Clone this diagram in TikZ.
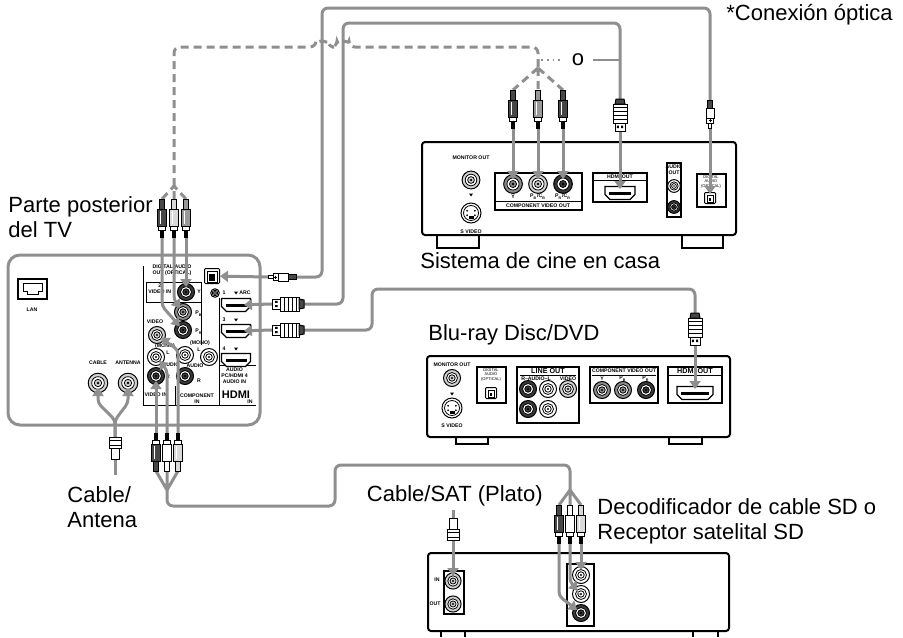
\documentclass[tikz,border=0pt]{standalone}
\usepackage{fontspec}
\setmainfont{Liberation Sans}
\usetikzlibrary{arrows.meta}

\definecolor{cablegray}{gray}{0.56}
\definecolor{plugdark}{gray}{0.28}
\definecolor{plugmid}{gray}{0.6}
\definecolor{pluglight}{gray}{0.85}
\definecolor{jackdark}{gray}{0.22}
\definecolor{jackmid}{gray}{0.55}
\definecolor{jacklight}{gray}{0.82}

\tikzset{
  cable/.style={cablegray, line width=1.5pt, rounded corners=3pt},
  dashcable/.style={cablegray, line width=1.5pt, dash pattern=on 4pt off 2.5pt, rounded corners=3pt},
  plugin/.style={cablegray, line width=1.5pt, rounded corners=2pt, -{Triangle[length=4pt,width=5.5pt]}},
  unitbox/.style={draw=black, line width=1pt, rounded corners=1.5pt},
  foot/.style={draw=black, line width=1pt},
  panel/.style={draw=black, line width=0.4pt},
  paneltext/.style={font=\fontsize{2.6}{3}\selectfont\bfseries, inner sep=0pt, align=center},
  biglabel/.style={font=\fontsize{11}{12.5}\selectfont, inner sep=0pt, align=left}
}

% round jack: name, centre, ring colour, size
\newcommand{\jack}[4]{%
  \coordinate (#1) at (#2);
  \begin{scope}[shift={(#2)},scale=#4]
    \draw[line width=0.5pt, fill=#3] (0,0) circle (8.5);
    \draw[line width=0.4pt, fill=white] (0,0) circle (5.5);
    \draw[line width=0.4pt, fill=#3] (0,0) circle (3.2);
    \fill (0,0) circle (1.2);
  \end{scope}}

% hdmi socket: name, centre, width
\newcommand{\hdmiport}[3]{%
  \coordinate (#1) at (#2);
  \begin{scope}[shift={(#2)}]
    \draw[line width=0.6pt, fill=white] (-#3/2,-6.5) -- (#3/2,-6.5) -- (#3/2,1.5) -- (#3/2-5,6.5) -- (-#3/2+5,6.5) -- (-#3/2,1.5) -- cycle;
    \fill (-#3/2+4,-1) rectangle (#3/2-4,1.5);
  \end{scope}}

% s-video socket: name, centre
\newcommand{\svideo}[2]{%
  \coordinate (#1) at (#2);
  \begin{scope}[shift={(#2)}]
    \draw[line width=0.5pt, fill=white] (0,0) circle (10);
    \draw[line width=0.4pt] (0,0) circle (7.5);
    \foreach \a in {30,150,210,330} \fill (\a:4.5) circle (1);
    \fill (-2.5,3) rectangle (2.5,6);
  \end{scope}}

% optical socket: name, centre, half size
\newcommand{\optport}[3]{%
  \coordinate (#1) at (#2);
  \begin{scope}[shift={(#2)}]
    \draw[line width=0.5pt, fill=white, rounded corners=0.5pt] (-#3,-#3) rectangle (#3,#3);
    \draw[line width=0.4pt, fill=white] (-#3+2.5,-#3+3) rectangle (#3-2.5,#3-1.5);
    \fill (-#3+4.5,-#3+5) rectangle (#3-4.5,#3-2.5);
  \end{scope}}

% small down triangle
\newcommand{\downtri}[1]{\fill[shift={(#1)}] (-2,-1.5) -- (2,-1.5) -- (0,1.5) -- cycle;}

% plugs: tip, transform (drawn pointing down)
\newcommand{\rcaplug}[3]{%
  \begin{scope}[shift={(#1)},#2]
    \draw[line width=0.4pt, fill=black] (-1.3,0) rectangle (1.3,-7);
    \draw[line width=0.4pt, fill=white] (-3.5,-7) rectangle (3.5,-11);
    \draw[line width=0.4pt, fill=#3] (-4.5,-11) rectangle (4.5,-28);
    \draw[line width=0.4pt, white] (-1.5,-13) -- (-1.5,-26);
    \draw[line width=0.4pt, fill=#3] (-2.5,-28) rectangle (2.5,-38);
  \end{scope}}
\newcommand{\hdmiplug}[2]{%
  \begin{scope}[shift={(#1)},#2]
    \draw[line width=0.5pt, fill=white] (-5,0) rectangle (5,-8);
    \fill (-3.2,-3) rectangle (-1.2,-5.5) (1.2,-3) rectangle (3.2,-5.5);
    \draw[line width=0.5pt, fill=white] (-7,-8) rectangle (7,-27);
    \foreach \r in {-12,-16,-20,-24} \draw[line width=0.4pt] (-7,\r) -- (7,\r);
    \draw[line width=0.5pt, fill=plugdark] (-5,-27) -- (5,-27) -- (4,-32) -- (-4,-32) -- cycle;
  \end{scope}}
\newcommand{\optplug}[2]{%
  \begin{scope}[shift={(#1)},#2]
    \draw[line width=0.4pt, fill=white] (-1.5,0) rectangle (1.5,-5);
    \draw[line width=0.4pt, fill=white] (-3.5,-5) rectangle (3.5,-10);
    \draw[line width=0.3pt] (-1.5,-7.5) -- (1.5,-7.5) (0,-6) -- (0,-9);
    \draw[line width=0.4pt, fill=white] (-4,-10) rectangle (4,-20);
    \draw[line width=0.4pt, fill=plugdark] (-2.5,-20) rectangle (2.5,-28);
  \end{scope}}
\newcommand{\coaxplug}[2]{%
  \begin{scope}[shift={(#1)},#2]
    \draw[line width=0.5pt, fill=white] (-6,0) rectangle (6,-11);
    \draw[line width=0.4pt] (-6,-3) -- (6,-3) (-6,-8) -- (6,-8);
    \draw[line width=0.5pt, fill=white] (-4,-11) rectangle (4,-22);
  \end{scope}}

\begin{document}
\begin{tikzpicture}[x=0.5pt,y=-0.5pt]
\useasboundingbox (0,0) rectangle (903,637);

% TV rear panel
\draw[cablegray, line width=1.5pt, rounded corners=6pt] (8,255) rectangle (260,425);
\draw[panel, line width=0.6pt] (18,279) rectangle (47,299);
\draw[panel] (23,283) -- (42,283) -- (42,291) -- (38,291) -- (38,294) -- (27,294) -- (27,291) -- (23,291) -- cycle;
\node[paneltext] (lanlabel) at (32,310) {LAN};
\node[paneltext] (cablelabel) at (98,363) {CABLE};
\node[paneltext] (antlabel) at (128,363) {ANTENNA};
\jack{tvcable}{98,383}{jacklight}{1.15}
\jack{tvant}{128,383}{jacklight}{1.15}

\draw[panel] (143,266) -- (143,405) -- (256,405);
\draw[panel] (146,282) rectangle (201,302);
\draw[panel] (201,302) -- (201,345);
\draw[panel] (175,386) -- (175,405);
\draw[panel] (219,298) -- (219,405);
\draw[panel] (219,365) -- (256,365);
\node[paneltext] (digitallabel) at (172,270) {DIGITAL AUDIO\\OUT (OPTICAL)};
\optport{tvopt}{212,276}{7.5}
\jack{tvsmall}{215,293}{white}{0.5}
\node[paneltext, anchor=west] (video2label) at (148,289) {2\\VIDEO IN};
\jack{tvY}{186,292}{jackdark}{1}
\jack{tvPb}{183,312}{jackmid}{1}
\jack{tvPr}{183,330}{jackdark}{1}
\node[paneltext] at (199,292) {Y};
\node[paneltext] at (199,314) {P\textsubscript{B}};
\node[paneltext] at (199,332) {P\textsubscript{R}};
\node[paneltext] (videolabel) at (155,322) {VIDEO};
\jack{tvVid}{157,335}{jacklight}{1}
\jack{tvL}{156,357}{white}{1}
\jack{tvR}{156,376}{jackdark}{1}
\node[paneltext] at (165,346) {(MONO)};
\node[paneltext] at (168,353) {L};
\node[paneltext] at (171,365) {AUDIO};
\node[paneltext] at (168,377) {R};
\jack{tvcompL}{185,355}{white}{1}
\jack{tvcompR}{185,376}{jackdark}{1}
\node[paneltext] at (200,343) {(MONO)};
\node[paneltext] at (199,350) {L};
\node[paneltext] at (195,366) {AUDIO};
\node[paneltext] at (199,381) {R};
\jack{tvpcaudio}{209,357}{white}{1}
\node[paneltext, anchor=north west] (pcaudiolabel) at (221,367) {AUDIO\\PC/HDMI 4\\AUDIO IN};
\node[paneltext] (video1label) at (156,392) {1\\VIDEO IN};
\node[paneltext] (complabel) at (197,399) {COMPONENT\\IN};
\hdmiport{tvhdmi1}{236,305}{29}
\hdmiport{tvhdmi3}{236,331}{29}
\hdmiport{tvhdmi4}{236,360}{29}
\node[paneltext] at (224,293) {1};
\downtri{236,293}
\node[paneltext] at (245,293) {ARC};
\node[paneltext] at (224,320) {3};
\downtri{236,320}
\node[paneltext] at (224,349) {4};
\downtri{236,349}
\node[font=\fontsize{5.5}{6}\selectfont\bfseries, inner sep=0pt] (hdmilogo) at (236,395) {HDMI};
\node[paneltext] at (250,402) {IN};

% home theatre system
\draw[unitbox] (422,142) rectangle (736,235);
\draw[foot] (437,235) -- (437,248) -- (479,248) -- (479,235);
\draw[foot] (682,235) -- (682,248) -- (723,248) -- (723,235);
\node[paneltext] at (471,158) {MONITOR OUT};
\jack{htmon}{471,180}{jacklight}{1.05}
\downtri{471,195}
\svideo{htsvideo}{471,213}
\node[paneltext] at (471,232) {S VIDEO};
\draw[panel, line width=0.6pt] (495,173) rectangle (582,210);
\draw[panel] (495,201) -- (582,201);
\jack{htY}{513,184}{jackmid}{1.1}
\jack{htPb}{538,184}{jacklight}{1.1}
\jack{htPr}{563,184}{jackdark}{1.1}
\node[paneltext] at (513,197) {Y};
\node[paneltext] at (538,197) {P\textsubscript{B}/C\textsubscript{B}};
\node[paneltext] at (563,197) {P\textsubscript{R}/C\textsubscript{R}};
\node[paneltext] at (538,206) {COMPONENT VIDEO OUT};
\draw[panel, line width=0.6pt] (593,173) rectangle (647,202);
\draw[panel] (593,180) -- (647,180);
\node[paneltext] at (620,176.5) {HDMI OUT};
\hdmiport{hthdmi}{620,193}{30}
\draw[panel, line width=0.6pt] (667,163) rectangle (681,217);
\node[paneltext] at (674,170) {AUDIO\\OUT};
\jack{htaudioA}{674,186}{white}{0.75}
\jack{htaudioB}{674,207}{jackdark}{0.75}
\draw[panel, line width=0.6pt] (697,174) rectangle (726,207);
\node[paneltext, font=\fontsize{2}{2.3}\selectfont] at (711,182) {DIGITAL\\AUDIO\\(OPTICAL)};
\optport{htopt}{710,198}{5.5}
\node[biglabel, anchor=base west] (htlabel) at (420,268) {Sistema de cine en casa};

% blu-ray / dvd player
\draw[unitbox] (427,356) rectangle (730,437);
\draw[foot] (456,437) -- (456,444) -- (488,444) -- (488,437);
\draw[foot] (669,437) -- (669,444) -- (702,444) -- (702,437);
\node[paneltext] at (452,365) {MONITOR OUT};
\jack{brmon}{452,378}{jacklight}{1}
\downtri{452,394}
\svideo{brsvideo}{452,408}
\node[paneltext] at (452,426) {S VIDEO};
\draw[panel, line width=0.6pt] (477,367) rectangle (506,403);
\node[paneltext, font=\fontsize{2}{2.3}\selectfont] at (491,375) {DIGITAL\\AUDIO\\(OPTICAL)};
\optport{bropt}{491,393}{5.5}
\draw[panel, line width=0.6pt] (517,367) rectangle (579,423);
\draw[panel] (520,375) -- (576,375);
\node[font=\fontsize{3.6}{4}\selectfont\bfseries, inner sep=0pt] at (548,371) {LINE OUT};
\node[paneltext] at (536,378.5) {R--AUDIO--L};
\node[paneltext] at (568,378.5) {VIDEO};
\jack{brlineA}{528,389}{jackdark}{1}
\jack{brlineB}{548,389}{white}{1}
\jack{brlineC}{568,389}{jacklight}{1}
\jack{brlineD}{528,409}{jackdark}{1}
\jack{brlineE}{548,409}{white}{1}
\draw[panel, line width=0.6pt] (590,367) rectangle (658,403);
\draw[panel] (592,375) -- (656,375);
\node[paneltext] at (624,371) {COMPONENT VIDEO OUT};
\node[paneltext] at (602,378.5) {Y};
\node[paneltext] at (623,378.5) {P\textsubscript{B}};
\node[paneltext] at (646,378.5) {P\textsubscript{R}};
\jack{brY}{602,390}{jackmid}{1}
\jack{brPb}{623,390}{jackmid}{1}
\jack{brPr}{646,390}{jackdark}{1}
\draw[panel, line width=0.6pt] (668,367) rectangle (722,403);
\draw[panel] (668,375) -- (722,375);
\node[font=\fontsize{3.6}{4}\selectfont\bfseries, inner sep=0pt] at (695,371) {HDMI OUT};
\hdmiport{brhdmi}{695,393}{36}
\node[biglabel, anchor=base west] (brlabel) at (428,340) {Blu-ray Disc/DVD};

% cable / satellite box
\draw[unitbox] (428,553) rectangle (729,631);
\draw[foot] (441,637) -- (441,631) (465,631) -- (465,637);
\draw[foot] (693,637) -- (693,631) (718,631) -- (718,637);
\draw[panel, line width=0.6pt] (444,571) rectangle (464,614);
\jack{decIN}{453,581}{jacklight}{0.95}
\jack{decOUT}{453,604}{jacklight}{0.95}
\node[paneltext] at (437,580) {IN};
\node[paneltext] at (435,604) {OUT};
\draw[panel, line width=0.6pt] (567,564) rectangle (594,626);
\jack{decA}{581,575}{white}{1}
\jack{decB}{581,594}{white}{1}
\jack{decC}{581,613}{jackdark}{1}
\node[biglabel, anchor=base east] (satlabel) at (543,501) {Cable/SAT (Plato)};
\node[biglabel, anchor=base west] (declabel) at (597,539) {Decodificador de cable SD o\\Receptor satelital SD};
\node[biglabel, anchor=base west] (antennalabel) at (67,527) {Cable/\\Antena};
\node[biglabel, anchor=base west] (tvlabel) at (8,237) {Parte posterior\\del TV};
\node[biglabel, anchor=base west] (opticnote) at (726,20) {*Conexión óptica};

% plug positions
\coordinate (tvtipA) at (162,237); \coordinate (tvtipB) at (174,237); \coordinate (tvtipC) at (186,237);
\coordinate (httipA) at (513,128); \coordinate (httipB) at (538,128); \coordinate (httipC) at (563,128);
\coordinate (tvopttip) at (268,277); \coordinate (htopttip) at (710,128);
\coordinate (tvhdmitipA) at (272,304); \coordinate (hthdmitip) at (620,131);
\coordinate (tvhdmitipB) at (272,330); \coordinate (brhdmitip) at (695,345);
\coordinate (tvbotA) at (156,433); \coordinate (tvbotB) at (167,433); \coordinate (tvbotC) at (178,433);
\coordinate (dectipA) at (559,543); \coordinate (dectipB) at (570,543); \coordinate (dectipC) at (581,543);
\coordinate (anttip) at (115,437); \coordinate (sattip) at (453,540);
\coordinate (tvsplit) at (174,186); \coordinate (htsplit) at (538,68);
\coordinate (tvjoin) at (167,490); \coordinate (decjoin) at (570,490);
\coordinate (antjoin) at (115,420);

% component video (alternative, dashed)
\draw[dashcable] (162,199) -- (tvsplit) (174,199) -- (tvsplit) (186,199) -- (tvsplit);
\draw[dashcable] (tvsplit) -- (174,47) -- (316,47) arc[start angle=180, end angle=360, radius=6] -- (337,47) arc[start angle=180, end angle=360, radius=6] -- (538,47) -- (htsplit);
\draw[dashcable] (htsplit) -- (513,90) (htsplit) -- (538,90) (htsplit) -- (563,90);
\draw[cablegray, line width=0.9pt, dotted] (541,60) -- (562,60);
\node[biglabel] (orlabel) at (578,60) {o};
\draw[cablegray, line width=0.9pt] (593,60) -- (620,60);

% optical and hdmi cables
\draw[cable] (296,277) -- (322,277) -- (322,8) -- (710,8) -- (710,100);
\draw[cable] (304,304) -- (343,304) -- (343,23) -- (620,23) -- (620,99);
\draw[cable] (304,330) -- (372,330) -- (372,289) -- (695,289) -- (695,313);
\draw[plugin, shorten >=4pt] (tvopttip) -- (tvopt);
\draw[plugin, shorten >=4pt] (tvhdmitipA) -- (tvhdmi1);
\draw[plugin, shorten >=4pt] (tvhdmitipB) -- (tvhdmi3);
\draw[plugin, shorten >=2pt] (htopttip) -- (htopt);
\draw[plugin, shorten >=2pt] (hthdmitip) -- (hthdmi);
\draw[plugin, shorten >=2pt] (brhdmitip) -- (brhdmi);

% component plugs into tv and home theatre
\draw[plugin, shorten >=2.5pt] (tvtipC) -- (tvY);
\draw[plugin, shorten >=2.5pt] (tvtipB) -- (174,300) -- (tvPb);
\draw[plugin, shorten >=2.5pt] (tvtipA) -- (162,306) -- (tvPr);
\draw[plugin, shorten >=2.5pt] (httipA) -- (htY);
\draw[plugin, shorten >=2.5pt] (httipB) -- (htPb);
\draw[plugin, shorten >=2.5pt] (httipC) -- (htPr);

% composite cable from set-top box
\draw[plugin, shorten >=2.5pt] (tvbotA) -- (tvR);
\draw[plugin, shorten >=2.5pt] (tvbotB) -- (167,370) -- (tvL);
\draw[plugin, shorten >=2.5pt] (tvbotC) -- (178,350) -- (tvVid);
\draw[cable] (156,471) -- (tvjoin) (167,471) -- (tvjoin) (178,471) -- (tvjoin);
\draw[cable] (tvjoin) -- (167,506) -- (335,506) -- (335,465) -- (570,465) -- (decjoin);
\draw[cable] (decjoin) -- (559,505) (decjoin) -- (570,505) (decjoin) -- (581,505);
\draw[plugin, shorten >=2.5pt] (dectipC) -- (decA);
\draw[plugin, shorten >=2.5pt] (dectipB) -- (570,582) -- (decB);
\draw[plugin, shorten >=2.5pt] (dectipA) -- (559,596) -- (decC);

% antenna and dish
\draw[cable] (115,459) -- (115,475);
\draw[plugin, shorten >=2.5pt] (anttip) -- (antjoin) -- (98,403) -- (tvcable);
\draw[plugin, shorten >=2.5pt] (anttip) -- (antjoin) -- (128,403) -- (tvant);
\draw[cable] (453,510) -- (453,518);
\draw[plugin, shorten >=2.5pt] (sattip) -- (decIN);

% plugs
\rcaplug{tvtipA}{}{plugdark}
\rcaplug{tvtipB}{}{pluglight}
\rcaplug{tvtipC}{}{plugmid}
\rcaplug{httipA}{}{plugdark}
\rcaplug{httipB}{}{plugmid}
\rcaplug{httipC}{}{plugdark}
\rcaplug{tvbotA}{yscale=-1}{plugdark}
\rcaplug{tvbotB}{yscale=-1}{white}
\rcaplug{tvbotC}{yscale=-1}{pluglight}
\rcaplug{dectipA}{}{plugdark}
\rcaplug{dectipB}{}{white}
\rcaplug{dectipC}{}{pluglight}
\hdmiplug{tvhdmitipA}{rotate=-90}
\hdmiplug{tvhdmitipB}{rotate=-90}
\hdmiplug{hthdmitip}{}
\hdmiplug{brhdmitip}{}
\optplug{tvopttip}{rotate=-90}
\optplug{htopttip}{}
\coaxplug{anttip}{yscale=-1}
\coaxplug{sattip}{}
\end{tikzpicture}
\end{document}
